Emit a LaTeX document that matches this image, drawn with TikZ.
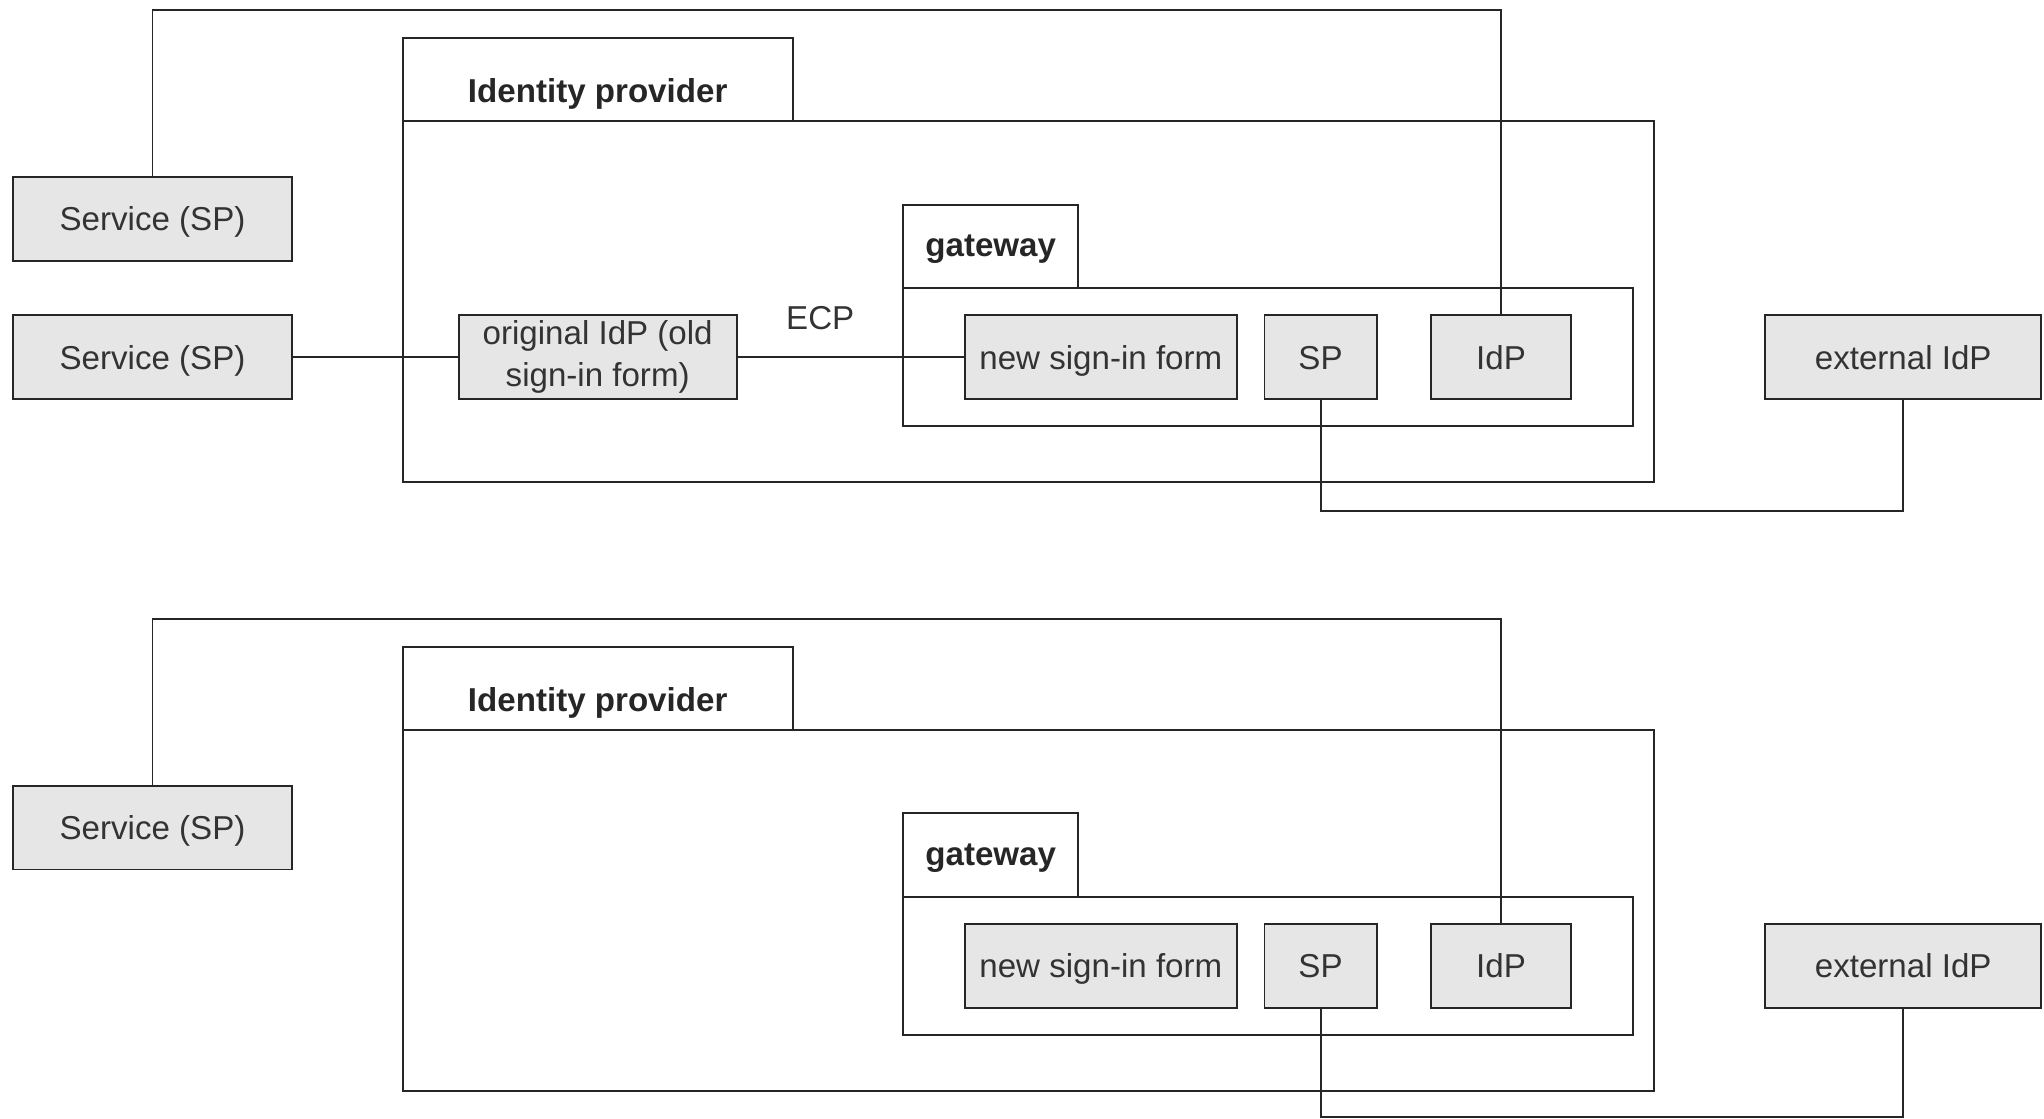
\documentclass[tikz,border=0pt]{standalone}
\usepackage{fontspec}
\setmainfont{Liberation Sans}
\definecolor{boxfill}{RGB}{230,230,230}
\definecolor{txtgray}{RGB}{51,51,51}
\tikzset{
  frame/.style={draw=black!85, line width=0.75pt},
  box/.style={frame, fill=boxfill, text=txtgray, minimum height=32pt, inner sep=0pt, font=\fontsize{12.7}{16}\selectfont},
  oneline/.style={box, text height=9.1pt, text depth=0pt},
  title/.style={text=black!85, inner sep=0pt, font=\fontsize{12.7}{16}\selectfont\bfseries},
  tag/.style={text=txtgray, inner sep=0pt, font=\fontsize{12.7}{16}\selectfont},
}
\begin{document}
\begin{tikzpicture}[x=0.5pt,y=0.5pt,yscale=-1,xscale=1]
\useasboundingbox (0,0) rectangle (1568,858);

%%%% upper panel
%Shape: Identity provider container
\draw [frame] (309,29) rectangle (608,93);
\draw [frame] (309,93) rectangle (1269,370);
\node [title] (idpTitleA) at (458.5,72) {Identity provider};
%Shape: gateway container
\draw [frame] (693,157) rectangle (827,221);
\draw [frame] (693,221) rectangle (1253,327);
\node [title] (gwTitleA) at (760,191) {gateway};

% Boxes
\node [oneline, minimum width=107pt] (serviceA1) at (117,168) {Service (SP)};
\node [oneline, minimum width=107pt] (serviceA2) at (117,274) {Service (SP)};
\node [box, minimum width=106.5pt, align=center] (origIdpA) at (458.5,274) {original IdP (old\\sign-in form)};
\node [oneline, minimum width=104.5pt] (formA) at (844.5,274) {new sign-in form};
\node [oneline, minimum width=43pt] (spA) at (1013,274) {SP};
\node [oneline, minimum width=53.5pt] (idpA) at (1151.5,274) {IdP};
\node [oneline, minimum width=106pt] (extIdpA) at (1460,274) {external IdP};

% Connectors
\coordinate (railTopA) at (0,8);
\coordinate (railLowA) at (0,392);
\draw [frame] (serviceA1.north) -- (serviceA1.north |- railTopA) -| (idpA.north);
\draw [frame] (serviceA2.east) -- (origIdpA.west);
\draw [frame] (origIdpA.east) -- node [tag, pos=0.366, above=10pt] (ecpA) {ECP} (formA.west);
\draw [frame] (spA.south) -- (spA.south |- railLowA) -| (extIdpA.south);

%%%% lower panel
%Shape: Identity provider container
\draw [frame] (309,496) rectangle (608,560);
\draw [frame] (309,560) rectangle (1269,837);
\node [title] (idpTitleB) at (458.5,539) {Identity provider};
%Shape: gateway container
\draw [frame] (693,624) rectangle (827,688);
\draw [frame] (693,688) rectangle (1253,794);
\node [title] (gwTitleB) at (760,658) {gateway};

% Boxes
\node [oneline, minimum width=107pt] (serviceB1) at (117,635) {Service (SP)};
\node [oneline, minimum width=104.5pt] (formB) at (844.5,741) {new sign-in form};
\node [oneline, minimum width=43pt] (spB) at (1013,741) {SP};
\node [oneline, minimum width=53.5pt] (idpB) at (1151.5,741) {IdP};
\node [oneline, minimum width=106pt] (extIdpB) at (1460,741) {external IdP};

% Connectors
\coordinate (railTopB) at (0,475);
\coordinate (railLowB) at (0,857);
\draw [frame] (serviceB1.north) -- (serviceB1.north |- railTopB) -| (idpB.north);
\draw [frame] (spB.south) -- (spB.south |- railLowB) -| (extIdpB.south);

\end{tikzpicture}
\end{document}
